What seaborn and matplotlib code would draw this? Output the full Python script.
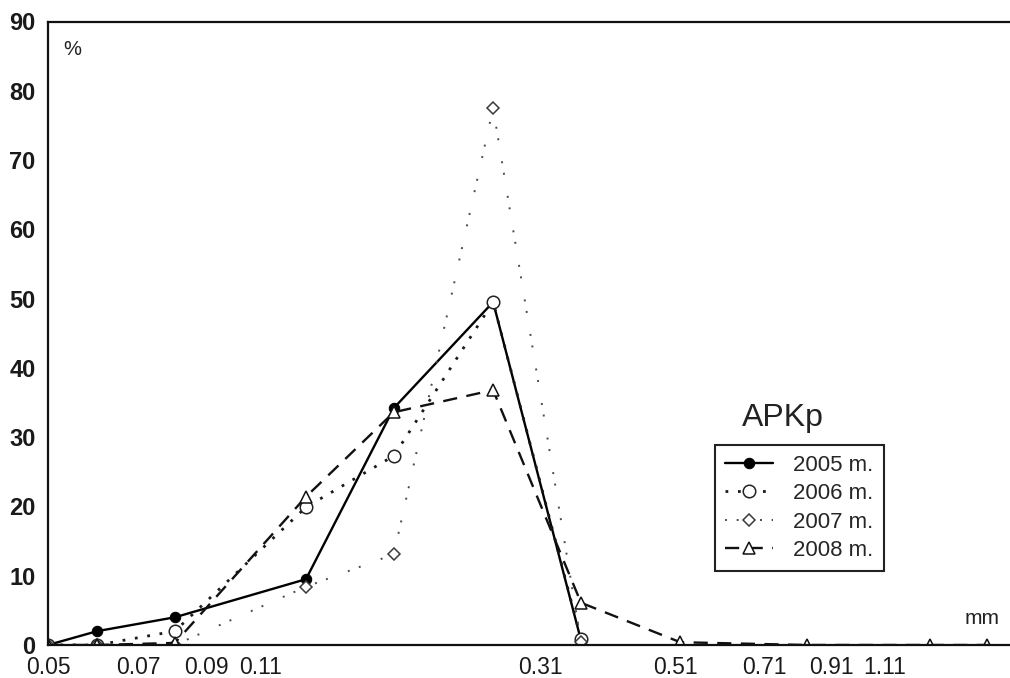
import numpy as np
import pandas as pd
import matplotlib
matplotlib.use("Agg")
import matplotlib.pyplot as plt
from matplotlib.ticker import FixedLocator, FixedFormatter, MultipleLocator, NullLocator
import seaborn as sns

# ---- data ----
size_mm = [0.05, 0.06, 0.08, 0.13, 0.18, 0.26, 0.36, 0.52, 0.83, 1.31, 1.62]
y2005 = [0, 2.0, 4.0, 9.5, 34.2, 49.5, 0.7, np.nan, np.nan, np.nan, np.nan]
y2006 = [0, 0, 2.0, 19.9, 27.3, 49.5, 0.9, np.nan, np.nan, np.nan, np.nan]
y2007 = [0, 0, 0, 8.4, 13.1, 77.5, 0.5, np.nan, np.nan, np.nan, np.nan]
y2008 = [0, 0, 0.3, 21.4, 33.6, 36.8, 6.1, 0.4, 0, 0, 0]
series_labels = ["2005 m.", "2006 m.", "2007 m.", "2008 m."]
xtick_values = [0.05, 0.07, 0.09, 0.11, 0.31, 0.51, 0.71, 0.91, 1.11]
xtick_labels = ["0.05", "0.07", "0.09", "0.11", "0.31", "0.51", "0.71", "0.91", "1.11"]
ytick_values = [0, 10, 20, 30, 40, 50, 60, 70, 80, 90]

sns.set_style("white")
plt.rcParams["font.family"] = ["Liberation Sans", "DejaVu Sans"]

fig = plt.figure(figsize=(10.1, 6.78), dpi=100)
ax = fig.add_axes([48 / 1010, 33 / 678, 966 / 1010, 623.5 / 678])

styles = [
    dict(color="black", linestyle="-", linewidth=1.7, marker="o", markersize=7.5,
         markerfacecolor="black", markeredgecolor="black"),
    dict(color="#1a1a1a", linestyle=(0, (1, 3.5)), linewidth=2.0, marker="o", markersize=9,
         markerfacecolor="white", markeredgecolor="#222222", markeredgewidth=1.1),
    dict(color="#4a4a4a", linestyle=(0, (1, 5, 1, 11)), linewidth=1.4, marker="D", markersize=6.5,
         markerfacecolor="white", markeredgecolor="#3a3a3a", markeredgewidth=1.1),
    dict(color="#111111", linestyle=(0, (6, 4)), linewidth=1.7, marker="^", markersize=8,
         markerfacecolor="white", markeredgecolor="#111111", markeredgewidth=1.1),
]

for yvals, lab, st in zip([y2005, y2006, y2007, y2008], series_labels, styles):
    df = pd.DataFrame({"x": size_mm, "y": yvals}).dropna()
    sns.lineplot(data=df, x="x", y="y", ax=ax, label=lab, sort=False, **st)

ax.set_xscale("log")
ax.set_xlim(0.05, 1.79)
ax.set_ylim(0, 90)

ax.xaxis.set_major_locator(FixedLocator(xtick_values))
ax.xaxis.set_major_formatter(FixedFormatter(xtick_labels))
ax.xaxis.set_minor_locator(NullLocator())
ax.yaxis.set_major_locator(FixedLocator(ytick_values))
ax.yaxis.set_minor_locator(MultipleLocator(2))

ax.tick_params(axis="x", which="major", direction="in", length=5, width=1.2,
               labelsize=16.5, pad=8, labelcolor="#1a1a1a")
ax.tick_params(axis="y", which="major", direction="in", length=6, width=1.2,
               labelsize=17, pad=9, labelcolor="#1a1a1a")
ax.tick_params(axis="y", which="minor", direction="in", length=3, width=1.0)
for lab in ax.get_yticklabels():
    lab.set_fontweight("bold")

ax.set_xlabel("")
ax.set_ylabel("")
for side in ["left", "bottom", "top"]:
    ax.spines[side].set_visible(True)
    ax.spines[side].set_linewidth(1.6)
    ax.spines[side].set_color("#111111")
ax.spines["right"].set_visible(False)

ax.text(0.025, 0.955, "%", transform=ax.transAxes, fontsize=14.5, ha="center", va="center",
        color="#222222")
ax.text(0.967, 0.043, "mm", transform=ax.transAxes, fontsize=15, ha="center", va="center",
        color="#222222")
ax.text(0.761, 0.364, "APKp", transform=ax.transAxes, fontsize=23, ha="center", va="center",
        color="#222222")

leg = ax.legend(loc="upper left", bbox_to_anchor=(0.690, 0.321), frameon=True, fancybox=False,
                framealpha=1, edgecolor="#222222", fontsize=16, handlelength=2.2,
                labelspacing=0.33, borderpad=0.45, handletextpad=0.9, borderaxespad=0)
leg.get_frame().set_linewidth(1.5)

fig.savefig("out.png", dpi=100, facecolor="white")
